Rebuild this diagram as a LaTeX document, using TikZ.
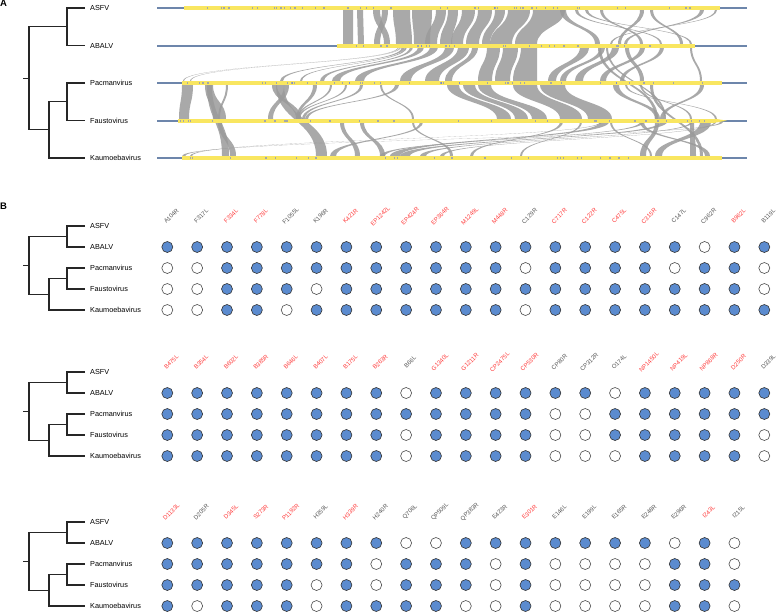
\documentclass[tikz,border=0pt]{standalone}
\usepackage{fontspec}
\setmainfont{Liberation Sans}
\definecolor{barline}{HTML}{6D86AB}
\definecolor{baryel}{HTML}{F9E660}
\definecolor{tickc}{HTML}{6A7FD8}
\definecolor{dotblue}{HTML}{5B8BCF}
\definecolor{gcr}{HTML}{FF3A3A}
\definecolor{gcg}{HTML}{555555}
\definecolor{ribc}{HTML}{9A9A9A}
\tikzset{
  sp/.style={anchor=west,inner sep=0pt,font=\fontsize{7.3}{8}\selectfont},
  tree/.style={draw=black!85,line width=1.1pt},
  gene/.style={rotate=45,inner sep=0pt,font=\fontsize{6}{7}\selectfont},
  fulldot/.style={circle,draw=black!80,line width=0.6pt,fill=dotblue,minimum size=11pt,inner sep=0pt},
  emptydot/.style={circle,draw=black!70,line width=0.6pt,fill=white,minimum size=11pt,inner sep=0pt},
  ribbon/.style={fill=ribc,fill opacity=0.85},
  panel/.style={inner sep=0pt,anchor=north west,font=\fontsize{9.5}{10}\selectfont\bfseries},
}
% ribbon: x1a x1b y1 x2a x2b y2
\newcommand{\rb}[6]{\fill[ribbon] (#1,#3) .. controls (#1,{(#3+#6)/2}) and (#4,{(#3+#6)/2}) .. (#4,#6) -- (#5,#6) .. controls (#5,{(#3+#6)/2}) and (#2,{(#3+#6)/2}) .. (#2,#3) -- cycle;}
% tree: prefix, five y values
\newcommand{\phylo}[6]{%
  \node[sp] (#1asfv) at (90,#2) {ASFV};
  \node[sp] (#1abalv) at (90,#3) {ABALV};
  \node[sp] (#1pac) at (90,#4) {Pacmanvirus};
  \node[sp] (#1fau) at (90,#5) {Faustovirus};
  \node[sp] (#1kau) at (90,#6) {Kaumoebavirus};
  \coordinate (#1ja) at (67,{(#2+#3)/2});
  \coordinate (#1jb) at (67,{(#4+#5)/2});
  \coordinate (#1jc) at (49,{((#4+#5)/2+#6)/2});
  \coordinate (#1root) at (29,{((#2+#3)/2+((#4+#5)/2+#6)/2)/2});
  \coordinate (#1stub) at (23,{((#2+#3)/2+((#4+#5)/2+#6)/2)/2});
  \draw[tree] ([xshift=-5pt]#1asfv.west) -| (#1ja) |- ([xshift=-5pt]#1abalv.west);
  \draw[tree] ([xshift=-5pt]#1pac.west) -| (#1jb) |- ([xshift=-5pt]#1fau.west);
  \draw[tree] (#1jb) -| (#1jc) |- ([xshift=-5pt]#1kau.west);
  \draw[tree] (#1ja) -| (#1root) |- (#1jc);
  \draw[tree] (#1stub) -- (#1root);
}
\newcommand{\dotrow}[3]{%
  \foreach \v [count=\i] in {#3} {
    \ifnum\v=1
      \node[fulldot] (#1c\i) at ({167.3+(\i-1)*29.85},#2) {};
    \else
      \node[emptydot] (#1c\i) at ({167.3+(\i-1)*29.85},#2) {};
    \fi
  }%
}
\newcommand{\genes}[3]{%
  \foreach \t/\c [count=\i] in {#3} {
    \node[gene,text=gc\c] (#1g\i) at ({167.3+(\i-1)*29.85+4},#2) {\t};
  }%
}
\begin{document}
\begin{tikzpicture}[x=1pt,y=-1pt]
\useasboundingbox (0,0) rectangle (778,614);

% ---------------- Panel A ----------------
\node[panel] (labA) at (0,0) {A};

% ribbons ASFV -> ABALV
\foreach \a/\b/\c/\d in {343/353/343/353, 357/363/358/364, 373/380/384/390, 382/388/374/380,
  393/410/396/412, 412/432/414/430, 436/446/425/437, 448/458/440/452, 462/475/451/463,
  478/492/466/479, 495/505/482/490, 508/530/490/512, 533/565/515/537,
  575/578/660/662, 585/588/690/692, 640/644/618/621, 700/704/624/627, 650/653/680/683,
  600/603/640/643, 715/717/610/612, 560/566/595/600}
  {\rb{\a}{\b}{10}{\c}{\d}{44}}
% ribbons ABALV -> Pacmanvirus
\foreach \a/\b/\c/\d in {398/399/183/184, 400/401/190/191, 402/405/280/283, 405/407/300/302,
  410/413/320/324, 418/424/332/340, 430/438/355/364, 445/454/400/411, 458/469/425/439,
  472/478/445/452, 487/500/478/492, 503/518/495/510, 521/537/513/537,
  580/589/548/556, 600/605/560/566, 612/619/575/583, 625/629/640/644, 640/645/600/606,
  660/664/620/624, 690/692/700/702}
  {\rb{\a}{\b}{47}{\c}{\d}{81}}
% ribbons Pacmanvirus -> Faustovirus
\foreach \a/\b/\c/\d in {182/193/179/189, 205/213/213/226, 226/228/218/220, 272/277/296/301,
  284/289/268/273, 313/317/296/299, 330/332/297/299, 345/347/298/300, 360/363/302/305,
  380/382/412/414, 395/399/305/308, 447/459/497/511, 463/475/515/528, 478/491/532/547,
  513/537/560/582, 540/565/588/612, 613/619/655/660, 625/627/715/717, 640/642/690/692,
  700/704/660/664}
  {\rb{\a}{\b}{85}{\c}{\d}{119}}
% ribbons Pacmanvirus -> Kaumoebavirus
\foreach \a/\b/\c/\d in {207/212/222/229, 276/284/316/327, 650/653/700/703}
  {\rb{\a}{\b}{85}{\c}{\d}{156}}
% ribbons ABALV -> Faustovirus
\foreach \a/\b/\c/\d in {598/601/655/658, 606/608/664/666}
  {\rb{\a}{\b}{47}{\c}{\d}{119}}
% ribbons Faustovirus -> Kaumoebavirus
\foreach \a/\b/\c/\d in {218/222/230/236, 720/723/182/185, 600/602/190/192, 640/644/380/385,
  600/609/390/400, 660/667/400/410, 690/693/420/426, 714/716/440/444, 420/423/330/336,
  412/414/450/453, 655/659/640/646, 700/711/655/662, 690/694/690/696, 640/644/705/710,
  340/344/355/360, 360/364/380/385, 610/612/650/652, 560/563/470/473, 580/582/520/522}
  {\rb{\a}{\b}{122}{\c}{\d}{156}}

% chromosome bars
\foreach \n/\y/\s/\e in {asfv/8/184/720, abalv/45.7/337/695, pac/83/182/722, fau/120.7/178/715, kau/158/182/722} {
  \draw[barline,line width=1.6pt] (157,\y) -- (747,\y);
  \fill[baryel] (\s,\y-2) rectangle (\e,\y+2);
}
\fill[baryel] (715,118.7) -- (727,120.7) -- (715,122.7) -- cycle;
\pgfmathsetseed{11}
\foreach \y/\s/\e/\k in {8/186/718/45, 45.7/339/693/25, 83/184/720/45, 120.7/180/713/30, 158/184/720/25} {
  \foreach \j in {1,...,\k} {
    \pgfmathsetmacro\xx{\s+rnd*(\e-\s)}
    \fill[tickc,opacity=0.6] (\xx-0.6,\y-0.9) rectangle (\xx+0.6,\y+0.9);
  }
}

\phylo{a}{8}{45.7}{83}{120.7}{158}

% ---------------- Panel B ----------------
\node[panel] (labB) at (0,203) {B};

% block 1
\phylo{p}{226}{247}{268}{289}{310}
\genes{p}{216}{A104R/g,F317L/g,F334L/r,F778L/r,F1055L/g,K196R/g,K421R/r,EP1242L/r,EP424R/r,EP364R/r,M1249L/r,M448R/r,C129R/g,C717R/r,C122R/r,C475L/r,C315R/r,C147L/g,C962R/g,B962L/r,B119L/g}
\dotrow{pa}{247}{1,1,1,1,1,1,1,1,1,1,1,1,1,1,1,1,1,1,0,1,1}
\dotrow{pb}{268}{0,0,1,1,1,1,1,1,1,1,1,1,0,1,1,1,1,0,1,1,0}
\dotrow{pc}{289}{0,0,1,1,1,0,1,1,1,1,1,1,1,1,1,1,1,1,1,1,0}
\dotrow{pd}{310}{0,0,1,1,0,1,1,1,1,1,1,1,0,1,1,1,1,1,1,1,1}

% block 2
\phylo{q}{372}{393}{414}{435}{456}
\genes{q}{362}{B475L/r,B354L/r,B602L/r,B385R/r,B646L/r,B407L/r,B175L/r,B263R/r,B66L/g,G1340L/r,G1211R/r,CP2475L/r,CP530R/r,CP80R/g,CP312R/g,O174L/g,NP1450L/r,NP419L/r,NP868R/r,D250R/r,D339L/g}
\dotrow{qa}{393}{1,1,1,1,1,1,1,1,0,1,1,1,1,1,1,0,1,1,1,1,1}
\dotrow{qb}{414}{1,1,1,1,1,1,1,1,1,1,1,1,1,0,0,1,1,1,1,1,1}
\dotrow{qc}{435}{1,1,1,1,1,1,1,1,0,1,1,1,1,0,0,1,1,1,1,1,0}
\dotrow{qd}{456}{1,1,1,1,1,1,1,1,0,1,1,1,1,0,0,0,1,1,1,1,0}

% block 3
\phylo{r}{522}{543}{564}{585}{606}
\genes{r}{512}{D1133L/r,D205R/g,D345L/r,S273R/r,P1192R/r,H359L/g,H339R/r,H240R/g,Q706L/g,QP509L/g,QP383R/g,E423R/g,E301R/r,E146L/g,E199L/g,E165R/g,E248R/g,E296R/g,I243L/r,I215L/g}
\dotrow{ra}{543}{1,1,1,1,1,1,1,1,0,0,1,1,1,1,1,1,1,0,1,0}
\dotrow{rb}{564}{1,1,1,1,1,1,1,0,1,1,1,0,1,0,0,0,0,1,1,0}
\dotrow{rc}{585}{1,1,1,1,1,0,1,0,1,1,1,0,1,0,0,0,0,1,1,1}
\dotrow{rd}{606}{1,0,1,1,1,0,1,1,1,1,0,0,1,0,0,0,0,1,1,0}
\end{tikzpicture}
\end{document}
